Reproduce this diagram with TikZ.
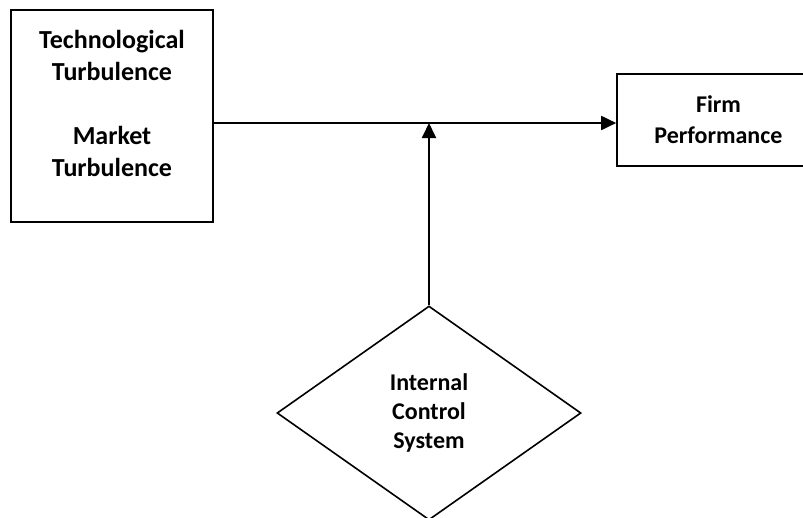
\documentclass[tikz,border=0pt]{standalone}
\usepackage{fontspec}
\setmainfont{Carlito}
\usetikzlibrary{shapes.geometric,arrows.meta}
\begin{document}
\begin{tikzpicture}[x=1pt,y=-1pt,
  lbl/.style={font=\fontsize{24}{31}\selectfont\bfseries, align=center, inner sep=0pt},
  boxstyle/.style={draw, line width=1.6pt, rectangle, inner sep=0pt},
  conn/.style={line width=1.8pt, -{Triangle[length=15pt,width=14pt]}}]
\useasboundingbox (0,0) rectangle (803,517);
\node[boxstyle, minimum width=202pt, minimum height=212pt] (L) at (112,116) {};
\node[lbl, font=\fontsize{26}{32}\selectfont\bfseries] (Ltext) at (112,103) {Technological\\Turbulence\\[32pt]Market\\Turbulence};
\node[boxstyle, minimum width=203pt, minimum height=92pt, lbl, draw] (R) at (718.5,120) {Firm\\Performance};
\node[draw, diamond, line width=1.6pt, minimum width=304pt, minimum height=214pt, inner sep=0pt, lbl, font=\fontsize{24}{29}\selectfont\bfseries] (D) at (429,413) {Internal\\Control\\System};
\coordinate (J) at (429,123);
\draw[conn] (L.east |- J) -- (R.west |- J);
\draw[conn] (D.north) -- (J);
\end{tikzpicture}
\end{document}
